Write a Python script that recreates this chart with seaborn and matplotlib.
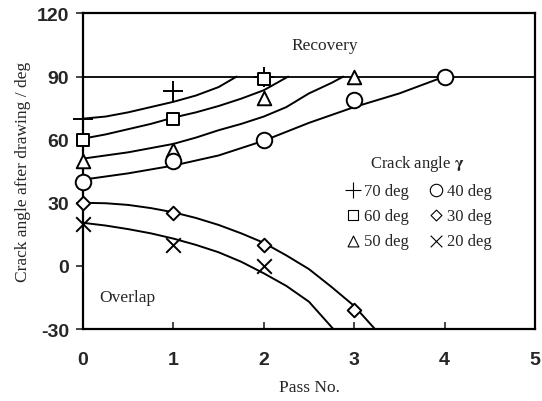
import matplotlib
matplotlib.use("Agg")
import matplotlib.pyplot as plt
import seaborn as sns

# measured points (pass no. vs crack angle after drawing)
passes_70 = [0, 1, 2]
angle_70 = [70, 83, 90]
passes_60 = [0, 1, 2]
angle_60 = [60, 70, 89]
passes_50 = [0, 1, 2, 3]
angle_50 = [50, 55, 80, 90]
passes_40 = [0, 1, 2, 3, 4]
angle_40 = [40, 50, 60, 79, 90]
passes_30 = [0, 1, 2, 3]
angle_30 = [30, 25, 10, -21]
passes_20 = [0, 1, 2]
angle_20 = [20, 10, 0]

# calculated curves
curve_x_70 = [0, 0.25, 0.5, 0.75, 1.0, 1.25, 1.5, 1.7]
curve_y_70 = [70, 71, 73, 75.5, 78, 81, 85, 90]
curve_x_60 = [0, 0.25, 0.5, 0.75, 1.0, 1.25, 1.5, 1.75, 2.0, 2.27]
curve_y_60 = [60.5, 62.5, 65, 67.5, 70.5, 73, 76, 79.5, 83.5, 90]
curve_x_50 = [0, 0.25, 0.5, 0.75, 1.0, 1.25, 1.5, 1.75, 2.0, 2.25, 2.5, 2.75, 2.88]
curve_y_50 = [51, 52.5, 54, 56, 58, 61, 64.5, 67.5, 71, 75.5, 82, 87, 90]
curve_x_40 = [0, 0.5, 1.0, 1.5, 2.0, 2.5, 3.0, 3.5, 4.0]
curve_y_40 = [41, 44, 47.7, 52.5, 59.5, 68, 75.5, 82, 90]
curve_x_30 = [0, 0.25, 0.5, 0.75, 1.0, 1.25, 1.5, 1.75, 2.0, 2.25, 2.5, 2.75, 3.0, 3.23]
curve_y_30 = [30, 29.8, 29, 27.5, 25.5, 22.8, 19.5, 15.5, 11, 5, -1.5, -10, -19, -30]
curve_x_20 = [0, 0.25, 0.5, 0.75, 1.0, 1.25, 1.5, 1.75, 2.0, 2.25, 2.5, 2.77]
curve_y_20 = [20.5, 19.2, 17.5, 15.5, 13, 10, 6.5, 2, -3.5, -9.5, -17, -30]

legend_labels = ["70 deg", "60 deg", "50 deg", "40 deg", "30 deg", "20 deg"]

sns.set_style("ticks")
plt.rcParams["axes.unicode_minus"] = False
plt.rcParams["mathtext.fontset"] = "stix"
serif = ["Liberation Serif", "DejaVu Serif"]
narrow = ["Liberation Sans Narrow", "Liberation Sans", "DejaVu Sans"]

fig = plt.figure(figsize=(5.42, 4.02), dpi=100)
ax = fig.add_axes([0.153, 0.179, 0.834, 0.785])

curves = [
    (curve_x_70, curve_y_70), (curve_x_60, curve_y_60), (curve_x_50, curve_y_50),
    (curve_x_40, curve_y_40), (curve_x_30, curve_y_30), (curve_x_20, curve_y_20),
]
for cx, cy in curves:
    sns.lineplot(x=cx, y=cy, ax=ax, color="black", linewidth=1.4,
                 sort=False, estimator=None)

ax.axhline(90, color="black", linewidth=1.3)

series = [
    (passes_70, angle_70, "+", 200),
    (passes_60, angle_60, "s", 80),
    (passes_50, angle_50, "^", 95),
    (passes_40, angle_40, "o", 125),
    (passes_30, angle_30, "D", 48),
    (passes_20, angle_20, "x", 110),
]
for (px, py, m, s), lab in zip(series, legend_labels):
    if m in ("+", "x"):
        sns.scatterplot(x=px, y=py, ax=ax, marker=m, s=s, color="black",
                        linewidth=1.4, label=lab, zorder=3, clip_on=False)
    else:
        sns.scatterplot(x=px, y=py, ax=ax, marker=m, s=s, facecolor="white",
                        edgecolor="black", linewidth=1.4, label=lab, zorder=3,
                        clip_on=False)

ax.set_xlim(0, 5)
ax.set_ylim(-30, 120)
ax.set_xticks([0, 1, 2, 3, 4, 5])
ax.set_yticks([-30, 0, 30, 60, 90, 120])
for sp in ax.spines.values():
    sp.set_linewidth(1.6)
    sp.set_color("black")
ax.tick_params(axis="x", direction="in", length=5, width=1.2, pad=16)
ax.tick_params(axis="y", direction="out", length=5, width=1.2, pad=5)
for t in ax.get_xticklabels() + ax.get_yticklabels():
    t.set_family(narrow)
    t.set_fontweight("bold")
    t.set_fontsize(14)

ax.set_xlabel("Pass No.", family=serif, fontsize=12.5, labelpad=8)
ax.set_ylabel("Crack angle after drawing / deg", family=serif, fontsize=12.5,
              labelpad=4)

ax.text(2.68, 105, "Recovery", family=serif, fontsize=12.5,
        ha="center", va="center")
ax.text(0.49, -15, "Overlap", family=serif, fontsize=12.5,
        ha="center", va="center")

leg = ax.legend(ncol=2, loc="center", bbox_to_anchor=(0.74, 0.405),
                frameon=False, prop={"family": serif, "size": 12},
                title="Crack angle $\\mathbf{\\gamma}$",
                handletextpad=0.1, columnspacing=1.0, labelspacing=0.55,
                markerscale=0.8, handlelength=1.2)
leg.get_title().set_family(serif)
leg.get_title().set_fontsize(12)
for h in leg.legend_handles:
    try:
        h.set_linewidth(0.8)
    except Exception:
        pass

fig.savefig("out.png", dpi=100)
